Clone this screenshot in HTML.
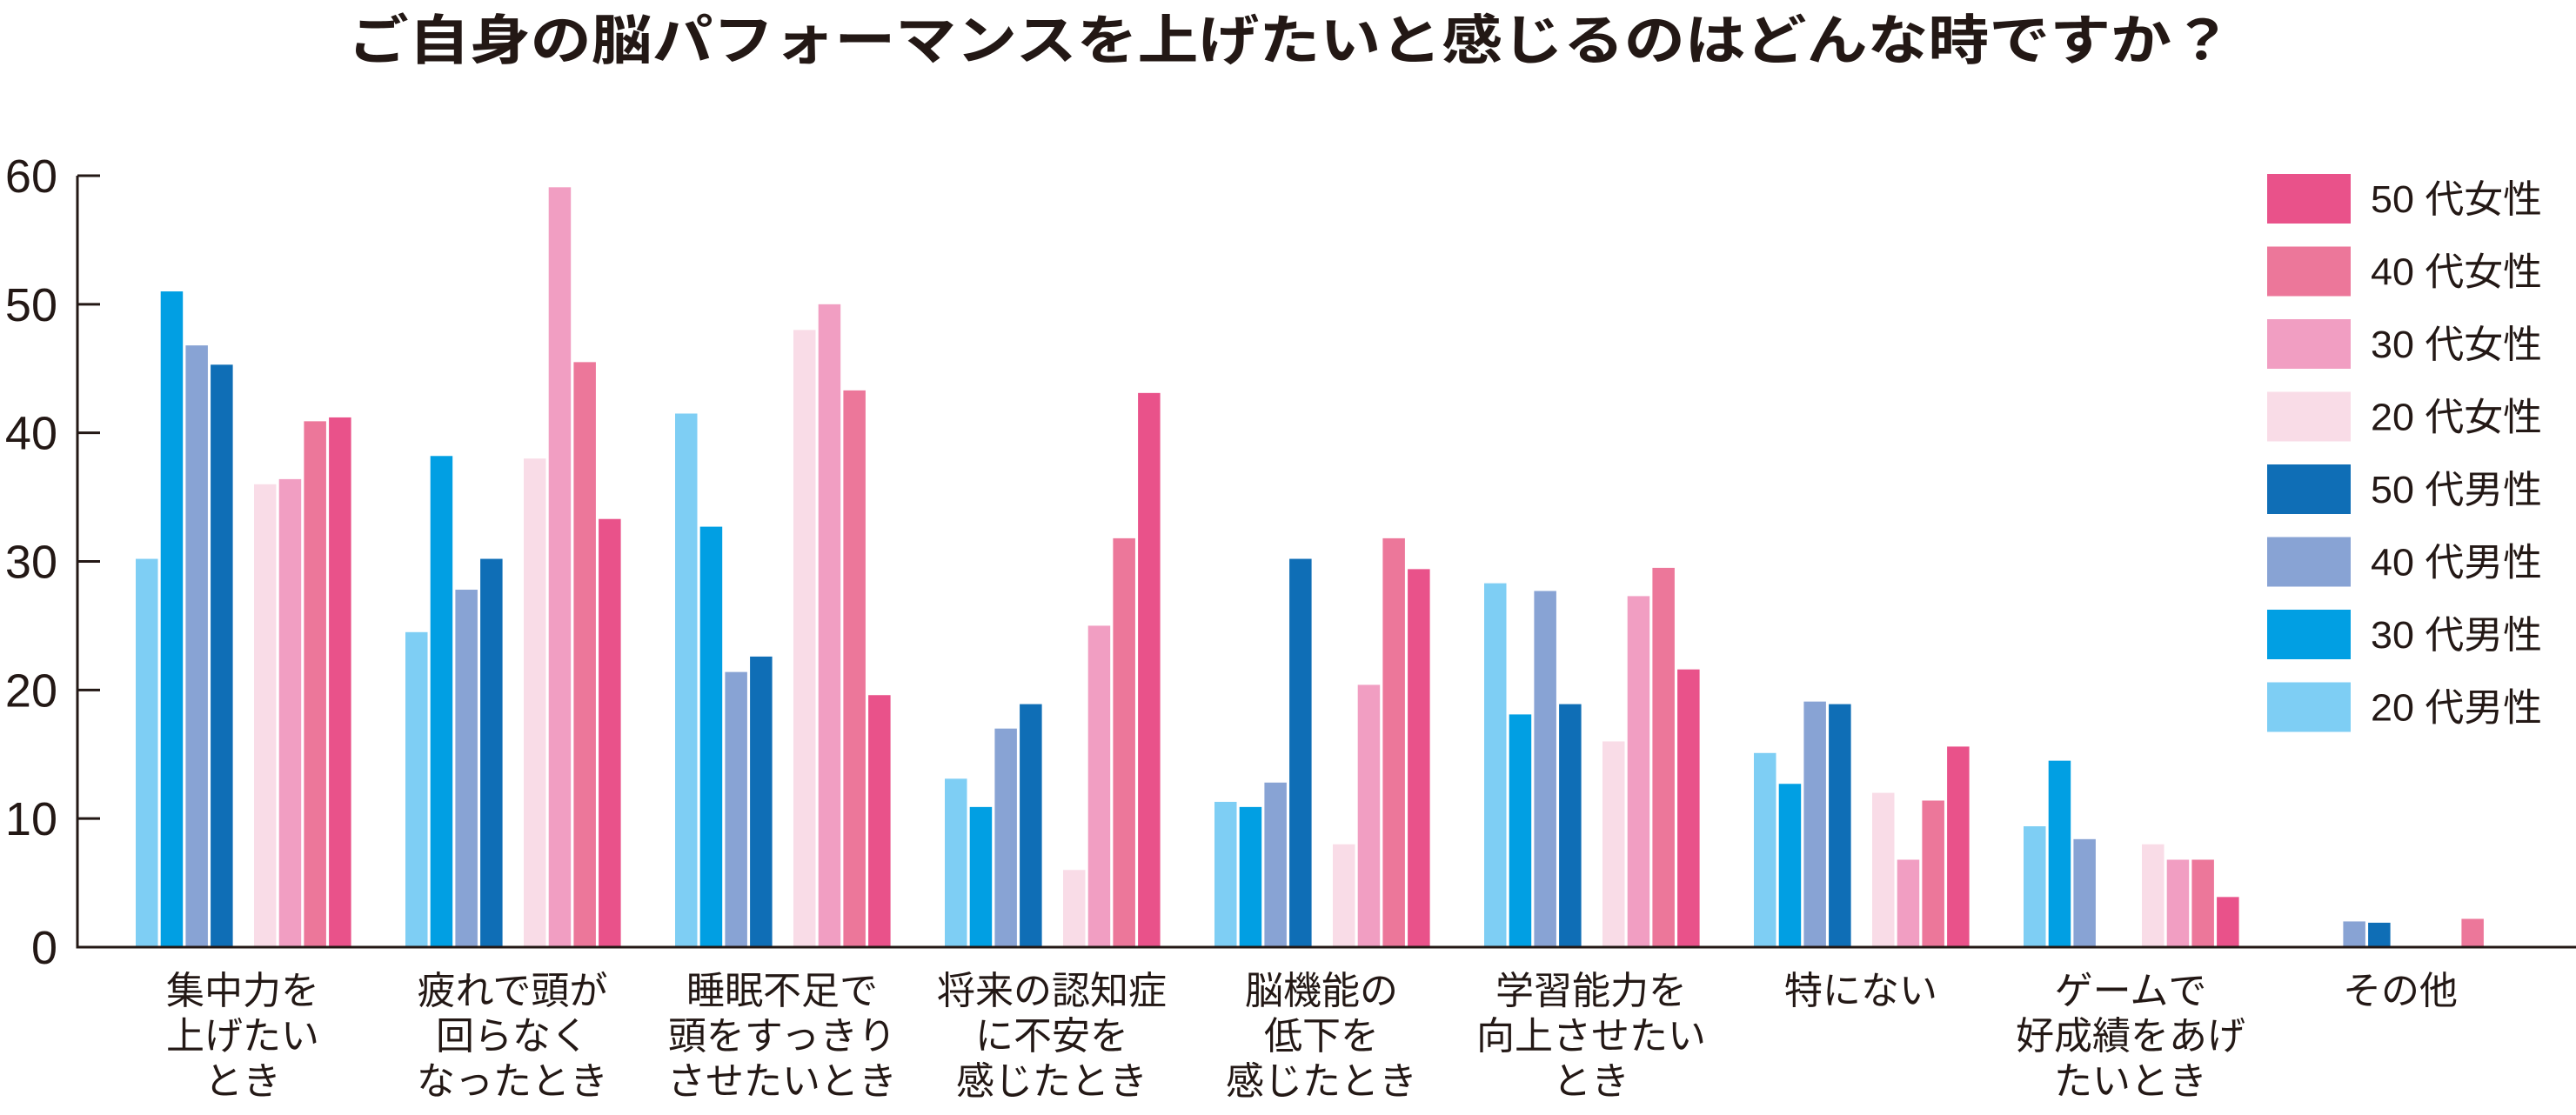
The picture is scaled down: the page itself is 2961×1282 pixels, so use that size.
<!DOCTYPE html>
<html><head><meta charset="utf-8">
<style>
html,body{margin:0;padding:0;background:#fff;}
svg{display:block;font-family:"Liberation Sans","Noto Sans CJK JP",sans-serif;}
</style></head>
<body>
<svg id="chart" width="2961" height="1282" viewBox="0 0 2961 1282" xmlns="http://www.w3.org/2000/svg">
<text x="400" y="68" font-size="62" font-weight="bold" fill="#231815" textLength="2166" lengthAdjust="spacingAndGlyphs">ご自身の脳パフォーマンスを上げたいと感じるのはどんな時ですか？</text>
<g id="bars"></g>
<g id="axes"></g>
<g id="legend"></g>
</svg>
<script>
const categories = [
  ["集中力を","上げたい","とき"],
  ["疲れで頭が","回らなく","なったとき"],
  ["睡眠不足で","頭をすっきり","させたいとき"],
  ["将来の認知症","に不安を","感じたとき"],
  ["脳機能の","低下を","感じたとき"],
  ["学習能力を","向上させたい","とき"],
  ["特にない"],
  ["ゲームで","好成績をあげ","たいとき"],
  ["その他"]
];
const seriesNames = ["20 代男性","30 代男性","40 代男性","50 代男性","20 代女性","30 代女性","40 代女性","50 代女性"];
const male20 = [30.2, 24.5, 41.5, 13.1, 11.3, 28.3, 15.1, 9.4, 0];
const male30 = [51.0, 38.2, 32.7, 10.9, 10.9, 18.1, 12.7, 14.5, 0];
const male40 = [46.8, 27.8, 21.4, 17.0, 12.8, 27.7, 19.1, 8.4, 2.0];
const male50 = [45.3, 30.2, 22.6, 18.9, 30.2, 18.9, 18.9, 0, 1.9];
const female20 = [36.0, 38.0, 48.0, 6.0, 8.0, 16.0, 12.0, 8.0, 0];
const female30 = [36.4, 59.1, 50.0, 25.0, 20.4, 27.3, 6.8, 6.8, 0];
const female40 = [40.9, 45.5, 43.3, 31.8, 31.8, 29.5, 11.4, 6.8, 2.2];
const female50 = [41.2, 33.3, 19.6, 43.1, 29.4, 21.6, 15.6, 3.9, 0];
const yTicks = [0, 10, 20, 30, 40, 50, 60];

const series = [male20, male30, male40, male50, female20, female30, female40, female50];
const colors = ["#7ECEF4","#019FE3","#88A3D4","#0F6EB6","#F9DCE7","#F19EC2","#EC779A","#E9528A"];
const NS = "http://www.w3.org/2000/svg";
const y0 = 1089, yTop = 202, yMax = 60;
function yScale(v){ return y0 - (v / yMax) * (y0 - yTop); }
function groupX(i){ return 156 + 310 * i; }
function barX(i, s){ return groupX(i) + (s < 4 ? s * 28.7 : 136 + (s - 4) * 28.7); }
function mk(tag, attrs, parent){ const e = document.createElementNS(NS, tag); for (const k in attrs) e.setAttribute(k, attrs[k]); parent.appendChild(e); return e; }

const bars = document.getElementById('bars');
series.forEach((arr, s) => {
  arr.forEach((v, i) => {
    if (v <= 0) return;
    const r = mk('rect', {x: barX(i, s), y: yScale(v), width: 25.5, height: y0 - yScale(v), fill: colors[s]}, bars);
    
    
  });
});

const axes = document.getElementById('axes');
const ya = mk('line', {x1: 89, y1: yTop, x2: 89, y2: y0 + 1.5, stroke: '#231815', 'stroke-width': 3}, axes);


const xa = mk('line', {x1: 87.5, y1: y0, x2: 2961, y2: y0, stroke: '#231815', 'stroke-width': 3}, axes);


yTicks.forEach(t => {
  const y = yScale(t);
  const tk = mk('line', {x1: 89, y1: y, x2: 115, y2: y, stroke: '#231815', 'stroke-width': 3}, axes);
  
  
  const tl = mk('text', {x: 66, y: y + 19, 'font-size': 54, 'text-anchor': 'end', fill: '#231815'}, axes);
  tl.textContent = String(t);
  
  
});
categories.forEach((lines, i) => {
  const cx = groupX(i) + 123;
  lines.forEach((ln, j) => {
    const tx = mk('text', {x: cx, y: 1154 + j * 52, 'font-size': 44, 'text-anchor': 'middle', fill: '#231815'}, axes);
    tx.textContent = ln;
    
    
  });
});

const legend = document.getElementById('legend');
const legendOrder = [7, 6, 5, 4, 3, 2, 1, 0];
legendOrder.forEach((s, k) => {
  const y = 200 + k * 83.5;
  const sw = mk('rect', {x: 2606, y: y, width: 96, height: 57, fill: colors[s]}, legend);
  
  
  const lt = mk('text', {x: 2725, y: y + 44, 'font-size': 44, fill: '#231815', textLength: 197, lengthAdjust: 'spacingAndGlyphs'}, legend);
  lt.textContent = seriesNames[s];
  
  
});
</script>
</body></html>
